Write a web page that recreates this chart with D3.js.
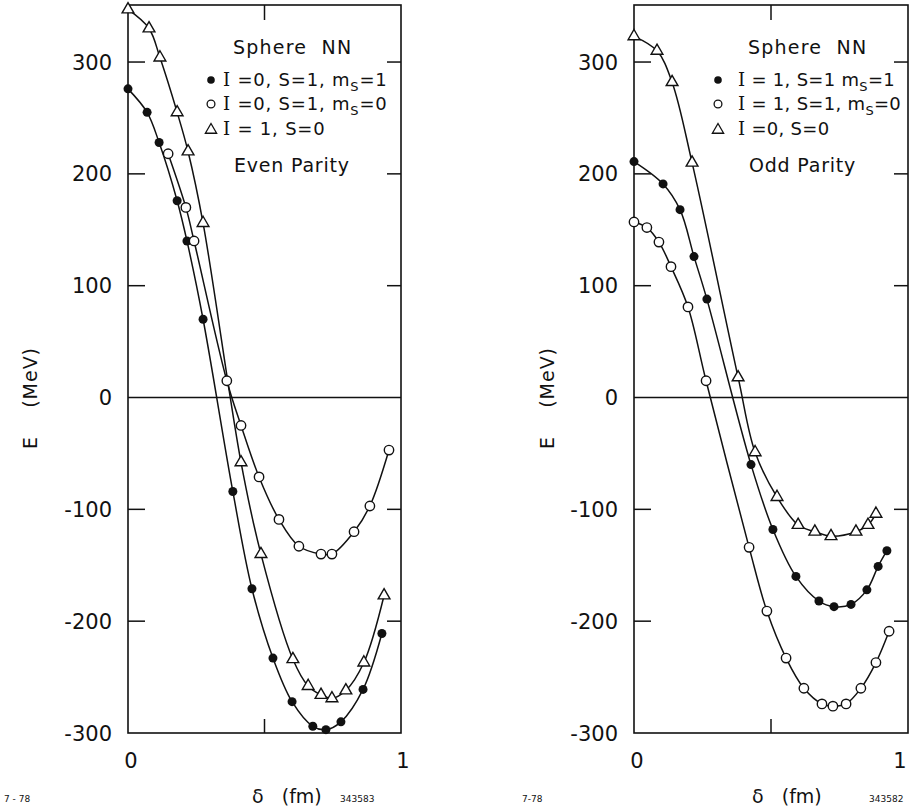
<!DOCTYPE html>
<html>
<head>
<meta charset="utf-8">
<script src="https://cdn.jsdelivr.net/npm/d3@7"></script>
<style>
  html, body { margin: 0; padding: 0; background: #fff; }
  svg { display: block; }
  text { font-family: "DejaVu Sans", sans-serif; fill: #111; }
</style>
</head>
<body>
<svg id="chart" width="912" height="808"></svg>
<script>
// ---------------- DATA ----------------
// Even parity panel (left)
const evenFilledX = [0, 0.07, 0.114, 0.18, 0.216, 0.275, 0.384, 0.454, 0.531, 0.601, 0.677, 0.725, 0.780, 0.861, 0.930];
const evenFilledY = [276, 255, 228, 176, 140, 70, -84, -171, -233, -272, -294, -297, -290, -261, -211];

const evenOpenX = [0.147, 0.212, 0.242, 0.362, 0.414, 0.480, 0.553, 0.626, 0.707, 0.747, 0.828, 0.886, 0.956];
const evenOpenY = [218, 170, 140, 15, -25, -71, -109, -133, -140, -140, -120, -97, -47];

const evenTriX = [0, 0.077, 0.117, 0.18, 0.22, 0.275, 0.414, 0.487, 0.604, 0.66, 0.707, 0.747, 0.798, 0.864, 0.938];
const evenTriY = [347, 330, 304, 255, 220, 156, -58, -140, -234, -258, -266, -269, -262, -237, -177];

// Odd parity panel (right)
const oddFilledX = [0, 0.106, 0.168, 0.219, 0.266, 0.427, 0.507, 0.591, 0.675, 0.730, 0.792, 0.850, 0.891, 0.923];
const oddFilledY = [211, 191, 168, 126, 88, -60, -118, -160, -182, -187, -185, -172, -151, -137];

const oddOpenX = [0, 0.047, 0.091, 0.135, 0.197, 0.263, 0.420, 0.485, 0.555, 0.620, 0.686, 0.726, 0.774, 0.828, 0.883, 0.931];
const oddOpenY = [157, 152, 139, 117, 81, 15, -134, -191, -233, -260, -274, -276, -274, -260, -237, -209];

const oddTriX = [0, 0.084, 0.139, 0.212, 0.380, 0.442, 0.522, 0.599, 0.660, 0.719, 0.810, 0.854, 0.883];
const oddTriY = [323, 310, 282, 210, 18, -49, -89, -114, -120, -124, -120, -114, -104];

const yTickValues = [300, 200, 100, 0, -100, -200, -300];
const yTickLabels = ["300", "200", "100", "0", "-100", "-200", "-300"];
const xTickValues = [0, 0.5, 1];
const xTickLabels = ["0", "", "1"];

const evenLegend = [
  { kind: "filled", parts: [["I", "=", "0, S=1, m"], "S", "=1"] },
  { kind: "open",   parts: [["I", "=", "0, S=1, m"], "S", "=0"] },
  { kind: "tri",    parts: [["I", "=", " 1, S=0"], null, ""] }
];
const oddLegend = [
  { kind: "filled", parts: [["I", "=", " 1, S=1 m"], "S", "=1"] },
  { kind: "open",   parts: [["I", "=", " 1, S=1, m"], "S", "=0"] },
  { kind: "tri",    parts: [["I", "=", "0, S=0"], null, ""] }
];

// ---------------- DRAW ----------------
const svg = d3.select("#chart");
const zip = (xs, ys) => xs.map((x, i) => ({ x, y: ys[i] }));

function panel(cfg) {
  const x = d3.scaleLinear().domain([0, 1]).range([cfg.x0, cfg.x1]);
  const y = d3.scaleLinear().domain([-300, 351]).range([733, 5]);
  const g = svg.append("g");

  // frame
  g.append("rect")
    .attr("x", cfg.x0).attr("y", y(351))
    .attr("width", cfg.x1 - cfg.x0).attr("height", y(-300) - y(351))
    .attr("fill", "none").attr("stroke", "#111").attr("stroke-width", 1.6);

  // zero line
  g.append("line")
    .attr("x1", cfg.x0).attr("x2", cfg.x1)
    .attr("y1", y(0)).attr("y2", y(0))
    .attr("stroke", "#111").attr("stroke-width", 1.5);

  // y ticks (inward on both sides) + labels
  const ticks = yTickValues.map((v, i) => ({ v, lab: yTickLabels[i] }));
  ticks.forEach(t => {
    if (t.v !== 0 && t.v !== -300) {
      g.append("line").attr("x1", cfg.x0).attr("x2", cfg.x0 + 17)
        .attr("y1", y(t.v)).attr("y2", y(t.v)).attr("stroke", "#111").attr("stroke-width", 1.5);
      g.append("line").attr("x1", cfg.x1).attr("x2", cfg.x1 - 14)
        .attr("y1", y(t.v)).attr("y2", y(t.v)).attr("stroke", "#111").attr("stroke-width", 1.5);
    }
    g.append("text")
      .attr("x", cfg.x0 - 16).attr("y", y(t.v) + 7.5)
      .attr("text-anchor", "end").attr("font-size", 21)
      .text(t.lab);
  });

  // x ticks
  xTickValues.forEach((v, i) => {
    if (v > 0 && v < 1) {
      g.append("line").attr("x1", x(v)).attr("x2", x(v))
        .attr("y1", y(-300)).attr("y2", y(-300) - 14).attr("stroke", "#111").attr("stroke-width", 1.5);
      g.append("line").attr("x1", x(v)).attr("x2", x(v))
        .attr("y1", y(351)).attr("y2", y(351) + 15).attr("stroke", "#111").attr("stroke-width", 1.5);
    }
    if (xTickLabels[i]) {
      const off = v === 0 ? 3 : cfg.oneOff;
      g.append("text").attr("x", x(v) + off).attr("y", 768)
        .attr("text-anchor", "middle").attr("font-size", 21).text(xTickLabels[i]);
    }
  });

  // curves
  const line = d3.line().x(d => x(d.x)).y(d => y(d.y)).curve(d3.curveCatmullRom.alpha(0.5));
  cfg.series.forEach(s => {
    g.append("path").datum(s.data)
      .attr("d", line).attr("fill", "none")
      .attr("stroke", "#111").attr("stroke-width", 1.5);
  });

  // markers
  const tri = d3.symbol(d3.symbolTriangle, 60);
  cfg.series.forEach(s => {
    const m = g.append("g");
    s.data.forEach(d => {
      if (s.kind === "filled") {
        m.append("circle").attr("cx", x(d.x)).attr("cy", y(d.y)).attr("r", 4.5).attr("fill", "#111");
      } else if (s.kind === "open") {
        m.append("circle").attr("cx", x(d.x)).attr("cy", y(d.y)).attr("r", 4.7)
          .attr("fill", "#fff").attr("stroke", "#111").attr("stroke-width", 1.4);
      } else {
        m.append("path").attr("d", tri)
          .attr("transform", `translate(${x(d.x)},${y(d.y)})`)
          .attr("fill", "#fff").attr("stroke", "#111").attr("stroke-width", 1.4);
      }
    });
  });

  // legend
  const L = cfg.legend;
  g.append("text").attr("x", L.titleX).attr("y", 54).attr("font-size", 19)
    .attr("letter-spacing", 1.2)
    .attr("xml:space", "preserve").text("Sphere  NN");
  const rowsY = [80, 104, 129];
  L.rows.forEach((r, i) => {
    const yy = rowsY[i];
    if (r.kind === "filled") {
      g.append("circle").attr("cx", L.markX).attr("cy", yy).attr("r", 3.8).attr("fill", "#111");
    } else if (r.kind === "open") {
      g.append("circle").attr("cx", L.markX).attr("cy", yy).attr("r", 3.9)
        .attr("fill", "#fff").attr("stroke", "#111").attr("stroke-width", 1.3);
    } else {
      g.append("path").attr("d", d3.symbol(d3.symbolTriangle, 55))
        .attr("transform", `translate(${L.markX},${yy + 1})`)
        .attr("fill", "#fff").attr("stroke", "#111").attr("stroke-width", 1.3);
    }
    const t = g.append("text").attr("x", L.textX).attr("y", yy + 6).attr("font-size", 18)
      .attr("letter-spacing", L.spacing)
      .attr("xml:space", "preserve");
    t.append("tspan").attr("font-family", "'DejaVu Serif', serif").text(r.parts[0][0]);
    t.append("tspan").text(" " + r.parts[0][1] + r.parts[0][2]);
    if (r.parts[1]) {
      t.append("tspan").attr("font-size", 13).attr("dy", 5).text(r.parts[1]);
      t.append("tspan").attr("dy", -5).text(r.parts[2]);
    }
  });
  g.append("text").attr("x", L.parityX).attr("y", 172).attr("font-size", 19)
    .attr("letter-spacing", 0.8).text(L.parity);

  // axis titles
  g.append("text")
    .attr("transform", `translate(${cfg.yTitleX},398) rotate(-90)`)
    .attr("text-anchor", "middle").attr("font-size", 19).attr("letter-spacing", 1)
    .attr("xml:space", "preserve").text("E    (MeV)");
  g.append("text").attr("x", cfg.xTitleX).attr("y", 803).attr("font-size", 19)
    .attr("xml:space", "preserve").text("δ   (fm)");
  g.append("text").attr("x", cfg.noteL).attr("y", 802).attr("font-size", 9)
    .attr("xml:space", "preserve").text(cfg.noteLText);
  g.append("text").attr("x", cfg.noteR).attr("y", 802).attr("font-size", 9).text(cfg.noteRText);
}

panel({
  x0: 128, x1: 401, oneOff: 2,
  series: [
    { kind: "filled", data: zip(evenFilledX, evenFilledY) },
    { kind: "open", data: zip(evenOpenX, evenOpenY) },
    { kind: "tri", data: zip(evenTriX, evenTriY) }
  ],
  legend: { titleX: 233, markX: 211, textX: 223, parityX: 234, parity: "Even Parity", rows: evenLegend, spacing: 0.8 },
  yTitleX: 37, xTitleX: 252, noteL: 4, noteLText: "7 - 78", noteR: 340, noteRText: "343583"
});

panel({
  x0: 634, x1: 908, oneOff: -8,
  series: [
    { kind: "filled", data: zip(oddFilledX, oddFilledY) },
    { kind: "open", data: zip(oddOpenX, oddOpenY) },
    { kind: "tri", data: zip(oddTriX, oddTriY) }
  ],
  legend: { titleX: 748, markX: 718, textX: 738, parityX: 749, parity: "Odd Parity", rows: oddLegend, spacing: 0.3 },
  yTitleX: 554, xTitleX: 752, noteL: 522, noteLText: "7-78", noteR: 869, noteRText: "343582"
});
</script>
</body>
</html>
